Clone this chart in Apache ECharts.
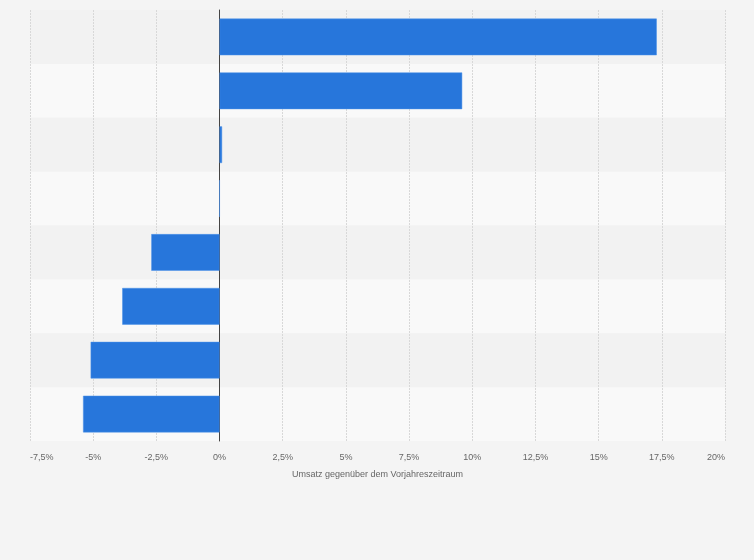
<!DOCTYPE html>
<html lang="de" style="height: 100%">
<head>
    <meta charset="utf-8">
    <title>Umsatz gegenüber dem Vorjahreszeitraum</title>
    <script src="https://cdn.jsdelivr.net/npm/echarts@6/dist/echarts.min.js"></script>
</head>
<body style="height: 100%; margin: 0; background: #f4f4f4">
<div id="main" style="width:754px;height:560px"></div>
<script type="text/javascript">
    // Kategorien (im Bild ohne Beschriftung)
    var categories = ['1', '2', '3', '4', '5', '6', '7', '8'];
    // Veränderung in Prozent
    var values = [17.3, 9.6, 0.1, 0, -2.7, -3.85, -5.1, -5.4];
    var xTicks = [-7.5, -5, -2.5, 0, 2.5, 5, 7.5, 10, 12.5, 15, 17.5, 20];

    var chart = echarts.init(document.getElementById('main'));
    var option = {
        backgroundColor: '#f4f4f4',
        animation: false,
        grid: {
            left: 30,
            right: 29,
            top: 10,
            bottom: 119
        },
        xAxis: {
            type: 'value',
            min: xTicks[0],
            max: xTicks[xTicks.length - 1],
            interval: 2.5,
            name: 'Umsatz gegenüber dem Vorjahreszeitraum',
            nameLocation: 'middle',
            nameGap: 29,
            nameTextStyle: {
                color: '#666',
                fontSize: 9,
                fontFamily: 'Liberation Sans'
            },
            axisLine: {show: false},
            axisTick: {show: false},
            axisLabel: {
                color: '#666',
                fontSize: 9,
                fontFamily: 'Liberation Sans',
                margin: 12,
                alignMinLabel: 'left',
                alignMaxLabel: 'right',
                formatter: function (v) {
                    return String(v).replace('.', ',') + '%';
                }
            },
            splitLine: {
                lineStyle: {
                    color: '#d8d8d8',
                    type: [2, 1]
                }
            }
        },
        yAxis: {
            type: 'category',
            inverse: true,
            data: categories,
            axisLabel: {show: false},
            axisTick: {show: false},
            axisLine: {
                onZero: true,
                lineStyle: {color: '#444', width: 1}
            },
            splitArea: {
                show: true,
                areaStyle: {color: ['#f2f2f2', '#f9f9f9']}
            }
        },
        series: [{
            type: 'bar',
            data: values,
            barCategoryGap: '32%',
            itemStyle: {
                color: '#2776db',
                borderColor: '#4a90e8',
                borderWidth: 0.5
            }
        }]
    };
    chart.setOption(option);
</script>
</body>
</html>
